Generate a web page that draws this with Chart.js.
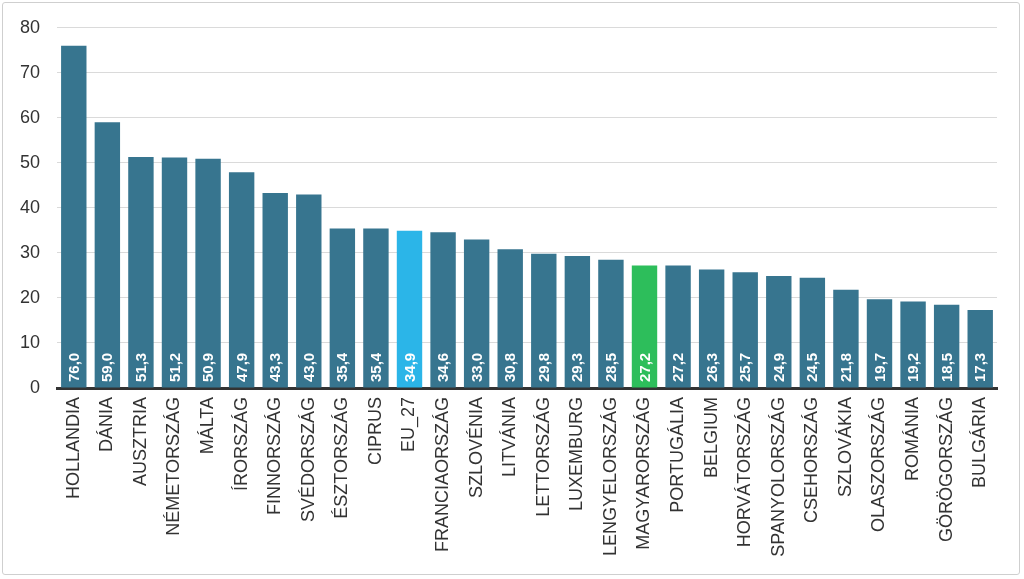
<!DOCTYPE html>
<html><head><meta charset="utf-8">
<script src="https://cdn.jsdelivr.net/npm/chart.js@4/dist/chart.umd.min.js"></script>
<style>
html,body{margin:0;padding:0;background:#fff;}
#wrap{position:absolute;left:0;top:0;width:1024px;height:579px;}
#frame{position:absolute;left:2px;top:2px;width:1018px;height:573px;border:1px solid #cfcfcf;border-radius:3px;box-sizing:border-box;pointer-events:none;}
canvas{position:absolute;left:0;top:0;}
</style></head><body>
<div id="wrap"><canvas id="c" width="1024" height="579"></canvas><div id="frame"></div></div>
<script>
const categories = ["HOLLANDIA","DÁNIA","AUSZTRIA","NÉMETORSZÁG","MÁLTA","ÍRORSZÁG","FINNORSZÁG","SVÉDORSZÁG","ÉSZTORSZÁG","CIPRUS","EU_27","FRANCIAORSZÁG","SZLOVÉNIA","LITVÁNIA","LETTORSZÁG","LUXEMBURG","LENGYELORSZÁG","MAGYARORSZÁG","PORTUGÁLIA","BELGIUM","HORVÁTORSZÁG","SPANYOLORSZÁG","CSEHORSZÁG","SZLOVÁKIA","OLASZORSZÁG","ROMÁNIA","GÖRÖGORSZÁG","BULGÁRIA"];
const values = [76.0,59.0,51.3,51.2,50.9,47.9,43.3,43.0,35.4,35.4,34.9,34.6,33.0,30.8,29.8,29.3,28.5,27.2,27.2,26.3,25.7,24.9,24.5,21.8,19.7,19.2,18.5,17.3];
const yTicks = [0,10,20,30,40,50,60,70,80];
const highlight = {"EU_27":"#2BB5E8","MAGYARORSZÁG":"#2DBE5B"};
const baseColor = "#37758F";
const colors = categories.map(c => highlight[c] || baseColor);

const valueLabels = {
  id:'valueLabels',
  afterDatasetsDraw(chart){
    const ctx = chart.ctx;
    const meta = chart.getDatasetMeta(0);
    const yBase = chart.scales.y.getPixelForValue(0);
    ctx.save();
    ctx.fillStyle = '#ffffff';
    ctx.font = 'bold 15px "Liberation Sans", Arial, sans-serif';
    ctx.textAlign = 'left';
    ctx.textBaseline = 'middle';
    meta.data.forEach((bar,i) => {
      ctx.save();
      ctx.translate(bar.x, yBase - 6);
      ctx.rotate(-Math.PI/2);
      ctx.fillText(values[i].toFixed(1).replace('.', ','), 0, 1);
      ctx.restore();
    });
    ctx.restore();
  }
};

new Chart(document.getElementById('c'), {
  type:'bar',
  data:{labels:categories, datasets:[{data:values, backgroundColor:colors, borderWidth:0, barPercentage:0.86, categoryPercentage:0.88}]},
  options:{
    responsive:false, animation:false, devicePixelRatio:1,
    layout:{padding:{left:0,top:20,right:27,bottom:20}},
    plugins:{legend:{display:false}, tooltip:{enabled:false}},
    scales:{
      x:{
        grid:{display:false, drawTicks:false},
        border:{display:true, color:'#333333', width:3},
        ticks:{color:'#333333', font:{family:'"Liberation Sans", Arial, sans-serif', size:18}, minRotation:90, maxRotation:90, padding:9, autoSkip:false},
        afterFit(s){ s.height = 171; }
      },
      y:{
        min:0, max:80, z:1,
        afterBuildTicks(s){ s.ticks = yTicks.map(v=>({value:v})); },
        grid:{color:'rgba(150,150,150,0.35)', lineWidth:1, drawTicks:false},
        border:{display:false},
        ticks:{color:'#333333', font:{family:'"Liberation Sans", Arial, sans-serif', size:18}, padding:17},
        afterFit(s){ s.width = 57; }
      }
    }
  },
  plugins:[valueLabels]
});
</script>
</body></html>
